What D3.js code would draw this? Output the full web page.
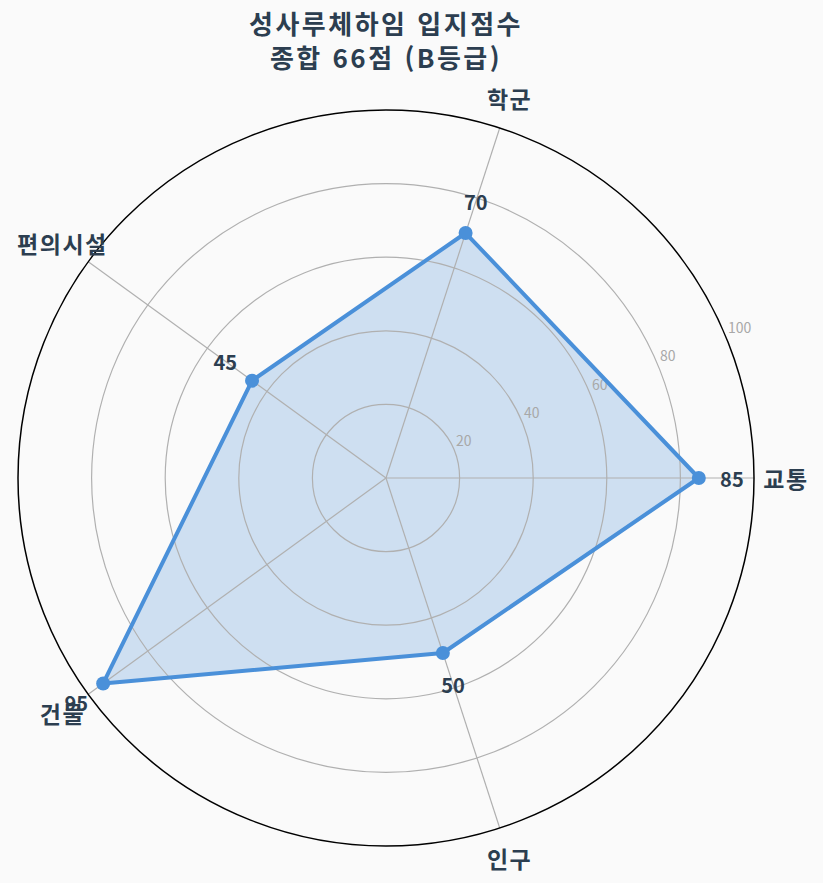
<!DOCTYPE html>
<html lang="ko">
<head>
<meta charset="UTF-8">
<title>성사루체하임 입지점수</title>
<script src="https://d3js.org/d3.v7.min.js"></script>
<style>
  html, body { margin: 0; padding: 0; background: #fafafa; }
  svg { display: block; }
  text { font-family: "Noto Sans CJK KR", "Noto Sans", sans-serif; }
</style>
</head>
<body>
<svg width="823" height="883"></svg>
<script>
  // 데이터
  const categories = ["교통", "학군", "편의시설", "건물", "인구"];
  const scores = [85, 70, 45, 95, 50];
  const ringTicks = [20, 40, 60, 80, 100];
  const titleLines = ["성사루체하임 입지점수", "종합 66점 (B등급)"];

  const W = 823, H = 883;
  const cx = 386, cy = 478, R = 368;
  const textColor = "#2c3e50";
  const lineColor = "#4a90d9";

  const svg = d3.select("svg").attr("viewBox", `0 0 ${W} ${H}`);
  svg.append("rect").attr("width", W).attr("height", H).attr("fill", "#fafafa");

  const r = d3.scaleLinear().domain([0, 100]).range([0, R]);
  // 각도: 교통이 오른쪽(0°), 반시계 방향
  const angle = d3.scalePoint().domain(categories).range([0, 2 * Math.PI * (1 - 1 / categories.length)]);
  const pos = (a, rad) => [cx + rad * Math.cos(a), cy - rad * Math.sin(a)];

  const g = svg.append("g");

  // 데이터 영역 (그리드 아래)
  const pts = categories.map((c, i) => pos(angle(c), r(scores[i])));
  g.append("path")
    .attr("d", d3.line().curve(d3.curveLinearClosed)(pts))
    .attr("fill", lineColor)
    .attr("fill-opacity", 0.25)
    .attr("stroke", "none");

  // 동심원 그리드
  g.selectAll("circle.ring")
    .data(ringTicks.slice(0, -1))
    .join("circle")
    .attr("class", "ring")
    .attr("cx", cx).attr("cy", cy)
    .attr("r", d => r(d))
    .attr("fill", "none")
    .attr("stroke", "#b0b0b0")
    .attr("stroke-width", 1.2);

  // 방사선
  g.selectAll("line.spoke")
    .data(categories)
    .join("line")
    .attr("class", "spoke")
    .attr("x1", cx).attr("y1", cy)
    .attr("x2", d => pos(angle(d), R)[0])
    .attr("y2", d => pos(angle(d), R)[1])
    .attr("stroke", "#b0b0b0")
    .attr("stroke-width", 1.2);

  // 바깥 테두리
  g.append("circle")
    .attr("cx", cx).attr("cy", cy).attr("r", R)
    .attr("fill", "none")
    .attr("stroke", "#000")
    .attr("stroke-width", 1.5);

  // 눈금 라벨 (22.5°)
  const labA = 22.5 * Math.PI / 180;
  g.selectAll("text.tick")
    .data(ringTicks)
    .join("text")
    .attr("class", "tick")
    .attr("x", d => pos(labA, r(d))[0] + 2)
    .attr("y", d => pos(labA, r(d))[1] - 4)
    .attr("font-size", 14)
    .attr("fill", "#a8a8a8")
    .text(d => d);

  // 데이터 선과 점
  g.append("path")
    .attr("d", d3.line().curve(d3.curveLinearClosed)(pts))
    .attr("fill", "none")
    .attr("stroke", lineColor)
    .attr("stroke-width", 4)
    .attr("stroke-linejoin", "round");

  g.selectAll("circle.pt")
    .data(pts)
    .join("circle")
    .attr("class", "pt")
    .attr("cx", d => d[0]).attr("cy", d => d[1])
    .attr("r", 7)
    .attr("fill", lineColor);

  // 값 라벨
  g.selectAll("text.val")
    .data(categories)
    .join("text")
    .attr("class", "val")
    .attr("x", (c, i) => pos(angle(c), r(scores[i] + 9))[0])
    .attr("y", (c, i) => pos(angle(c), r(scores[i] + 9))[1])
    .attr("text-anchor", "middle")
    .attr("dominant-baseline", "central")
    .attr("font-size", 20)
    .attr("font-weight", "bold")
    .attr("fill", textColor)
    .text((c, i) => scores[i]);

  // 카테고리 라벨
  g.selectAll("text.cat")
    .data(categories)
    .join("text")
    .attr("class", "cat")
    .attr("x", c => pos(angle(c), R + 32)[0])
    .attr("y", c => pos(angle(c), R + 32)[1])
    .attr("text-anchor", "middle")
    .attr("dominant-baseline", "central")
    .attr("font-size", 23)
    .attr("letter-spacing", 1.5)
    .attr("font-weight", "bold")
    .attr("fill", textColor)
    .text(c => c);

  // 제목
  svg.selectAll("text.title")
    .data(titleLines)
    .join("text")
    .attr("class", "title")
    .attr("x", cx)
    .attr("y", (d, i) => 34 + i * 34)
    .attr("text-anchor", "middle")
    .attr("font-size", 26)
    .attr("letter-spacing", 2.5)
    .attr("font-weight", "bold")
    .attr("fill", textColor)
    .text(d => d);
</script>
</body>
</html>
